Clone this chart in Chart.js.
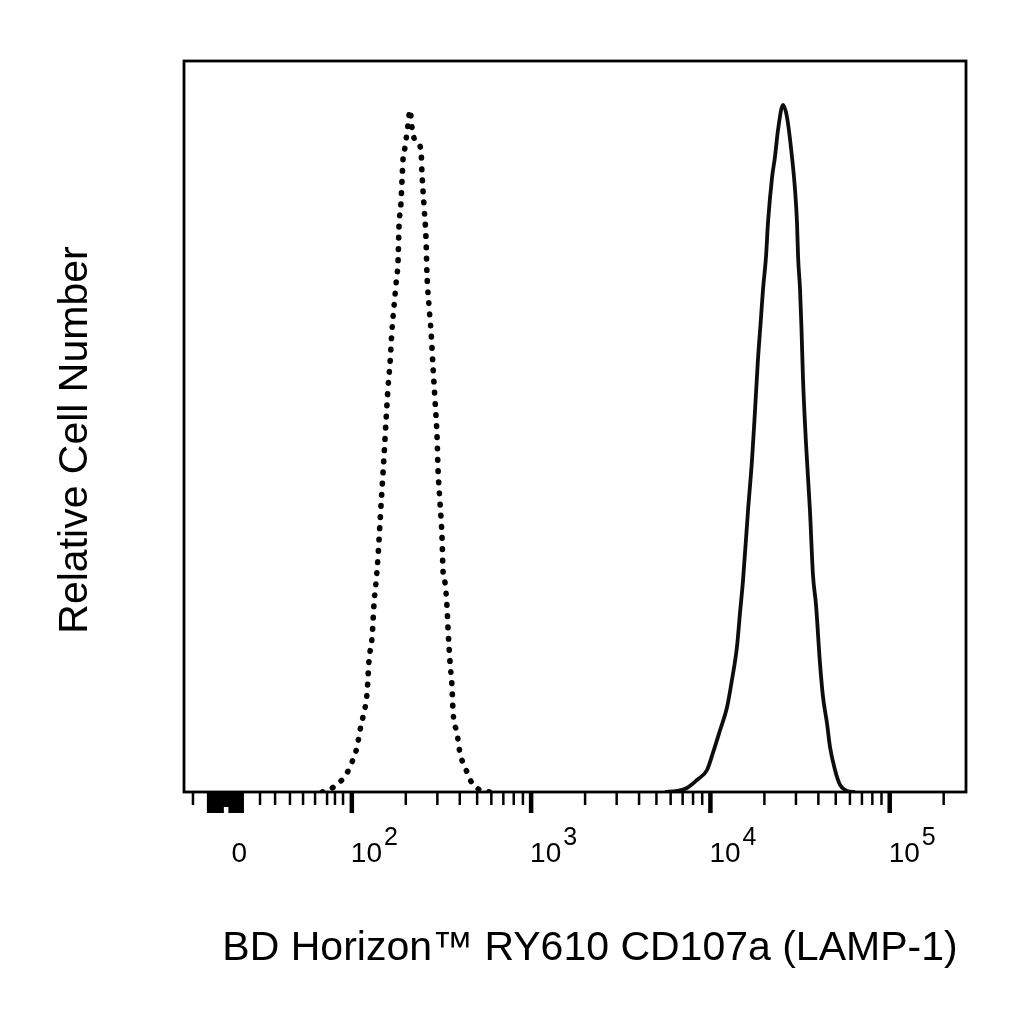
<!DOCTYPE html>
<html>
<head>
<meta charset="utf-8">
<title>CD107a histogram</title>
<script src="https://cdn.jsdelivr.net/npm/chart.js@4.4.1/dist/chart.umd.min.js"></script>
<style>
  html, body { margin: 0; padding: 0; background: #fff; }
  #wrap { width: 1024px; height: 1024px; }
</style>
</head>
<body>
<div id="wrap"><canvas id="histo" width="1024" height="1024"></canvas></div>
<script>
// x = log10 of fluorescence (display units: 10^2 -> 2, 10^3 -> 3 ...), y = relative cell number (% of max scale)

// isotype control (dotted)
const dottedX = [1.834, 1.890, 1.934, 1.973, 2.001, 2.029, 2.046, 2.062, 2.085, 2.096, 2.113, 2.124, 2.135,
  2.146, 2.157, 2.168, 2.180, 2.191, 2.202, 2.213, 2.224, 2.235, 2.247, 2.258, 2.263, 2.274, 2.280, 2.286,
  2.297, 2.313, 2.325, 2.336, 2.352, 2.386, 2.391, 2.403, 2.414, 2.419, 2.431, 2.442, 2.453, 2.464, 2.475,
  2.481, 2.492, 2.503, 2.509, 2.520, 2.531, 2.537, 2.548, 2.559, 2.564, 2.587, 2.603, 2.631, 2.670, 2.715, 2.771];
const dottedY = [0, 0.55, 1.37, 2.60, 4.10, 6.16, 8.48, 10.26, 13.54, 18.06, 21.20, 25.85, 28.73,
  32.15, 36.80, 41.31, 46.10, 50.89, 55.40, 58.69, 63.20, 66.35, 69.63, 72.78, 77.29, 80.57, 83.72, 86.73,
  88.24, 91.24, 93.30, 90.83, 89.19, 87.82, 84.82, 80.03, 75.51, 71.00, 66.35, 62.93, 58.14, 53.62, 48.84,
  44.05, 39.53, 34.88, 30.10, 28.59, 25.31, 22.16, 17.65, 14.36, 11.22, 8.07, 5.34, 3.42, 1.23, 0.27, 0];

// CD107a stained cells (solid)
const solidX = [3.747, 3.814, 3.869, 3.925, 3.981, 4.014, 4.054, 4.093, 4.120, 4.148, 4.165, 4.182, 4.210,
  4.232, 4.249, 4.265, 4.282, 4.293, 4.310, 4.321, 4.344, 4.360, 4.377, 4.405, 4.427, 4.455, 4.472, 4.483,
  4.489, 4.500, 4.508, 4.516, 4.533, 4.555, 4.572, 4.589, 4.611, 4.628, 4.650, 4.667, 4.695, 4.723, 4.762, 4.806];
const solidY = [0, 0.14, 0.55, 1.64, 3.01, 5.34, 8.48, 11.63, 15.32, 19.84, 24.49, 29.00, 38.58,
  45.42, 52.26, 59.10, 64.84, 68.67, 73.19, 77.84, 84.13, 86.87, 90.56, 93.98, 92.34, 86.87, 82.35, 77.84,
  73.19, 68.67, 63.40, 56.77, 47.74, 38.58, 29.69, 25.58, 17.65, 13.00, 9.44, 6.16, 3.01, 0.96, 0.14, 0];

// axis ticks
const xMin = 1.064;
const xMax = 5.4255;
const majorDecades = [2, 3, 4, 5];
const minorMultipliers = [2, 3, 4, 5, 6, 7, 8, 9];
const lowMinorTicks = [1.114, 1.488, 1.572, 1.655, 1.728, 1.795, 1.862, 1.906, 1.951];
const zeroBlockTicks = [1.200, 1.210, 1.220, 1.230, 1.240, 1.250, 1.260, 1.270, 1.278,
  1.320, 1.330, 1.340, 1.350, 1.360, 1.370, 1.380, 1.390];
const zeroBlockShortTicks = [1.288, 1.298, 1.308];
const zeroLabelPos = 1.372;
const zeroLabel = '0';

const xTitle = 'BD Horizon™ RY610 CD107a (LAMP-1)';
const yTitle = 'Relative Cell Number';

const FONT = '"Liberation Sans", Arial, Helvetica, sans-serif';

const axisDecor = {
  id: 'axisDecor',
  afterDraw(chart) {
    const { ctx, chartArea: a, scales: { x } } = chart;
    ctx.save();
    ctx.strokeStyle = '#000';
    ctx.fillStyle = '#000';

    // frame
    ctx.lineWidth = 2.8;
    ctx.strokeRect(a.left, a.top, a.right - a.left, a.bottom - a.top);

    function tick(v, len, w) {
      const px = x.getPixelForValue(v);
      if (px < a.left || px > a.right) return;
      ctx.lineWidth = w;
      ctx.beginPath();
      ctx.moveTo(px, a.bottom);
      ctx.lineTo(px, a.bottom + len);
      ctx.stroke();
    }

    lowMinorTicks.forEach(v => tick(v, 13, 2.5));
    zeroBlockTicks.forEach(v => tick(v, 21, 3));
    zeroBlockShortTicks.forEach(v => tick(v, 15, 3));
    majorDecades.forEach(d => {
      tick(d, 21, 4.5);
      minorMultipliers.forEach(m => tick(d + Math.log10(m), 13, 2.5));
    });

    // tick labels
    ctx.textBaseline = 'alphabetic';
    ctx.font = '28px ' + FONT;
    ctx.textAlign = 'center';
    ctx.fillText(zeroLabel, x.getPixelForValue(zeroLabelPos), 862);
    ctx.textAlign = 'left';
    majorDecades.forEach(d => {
      const px = x.getPixelForValue(d);
      ctx.font = '28px ' + FONT;
      ctx.fillText('10', px - 1, 862);
      const w = ctx.measureText('10').width;
      ctx.font = '25px ' + FONT;
      ctx.fillText(String(d), px + w + 1, 845);
    });

    // axis titles
    ctx.font = '41px ' + FONT;
    ctx.textAlign = 'center';
    ctx.fillText(xTitle, 590, 960);
    ctx.translate(87, 440);
    ctx.rotate(-Math.PI / 2);
    ctx.fillText(yTitle, 0, 0);
    ctx.restore();
  }
};

new Chart(document.getElementById('histo'), {
  type: 'line',
  data: {
    datasets: [
      {
        label: 'Isotype control',
        data: dottedX.map((v, i) => ({ x: v, y: dottedY[i] })),
        borderColor: '#000',
        borderWidth: 5.6,
        borderDash: [0.6, 10.6],
        borderCapStyle: 'round',
        pointRadius: 0,
        cubicInterpolationMode: 'monotone',
        fill: false
      },
      {
        label: 'CD107a',
        data: solidX.map((v, i) => ({ x: v, y: solidY[i] })),
        borderColor: '#0d0d0d',
        borderWidth: 3.8,
        borderJoinStyle: 'round',
        pointRadius: 0,
        cubicInterpolationMode: 'monotone',
        fill: false
      }
    ]
  },
  options: {
    responsive: false,
    animation: false,
    devicePixelRatio: 1,
    layout: { padding: { left: 184, right: 58, top: 61, bottom: 232 } },
    plugins: {
      legend: { display: false },
      tooltip: { enabled: false },
      title: { display: false }
    },
    scales: {
      x: { type: 'linear', min: xMin, max: xMax, display: false },
      y: { type: 'linear', min: 0, max: 100, display: false }
    }
  },
  plugins: [axisDecor]
});
</script>
</body>
</html>
